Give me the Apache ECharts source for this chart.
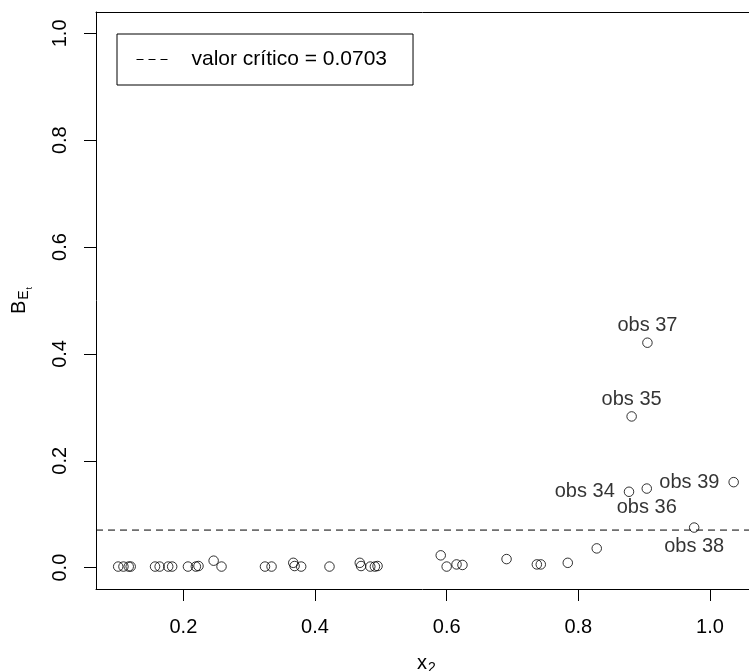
<!DOCTYPE html>
<html>
<head>
<meta charset="utf-8">
<script src="https://cdn.jsdelivr.net/npm/echarts@6/dist/echarts.min.js"></script>
<style>
html,body{margin:0;padding:0;background:#fff;}
#chart{width:749px;height:671px;}
</style>
</head>
<body>
<div id="chart"></div>
<script>
// ---- data ----
const x2 = [0.101,0.109,0.117,0.120,0.157,0.164,0.177,0.183,0.207,0.219,0.223,0.246,0.258,
            0.324,0.334,0.367,0.369,0.379,0.422,0.468,0.470,0.484,0.491,0.495,
            0.591,0.600,0.615,0.624,0.691,0.737,0.743,0.784,0.828,
            0.877,0.881,0.904,0.905,0.976,1.036];
const bEt = [0.002,0.002,0.002,0.002,0.002,0.002,0.002,0.002,0.002,0.002,0.003,0.013,0.002,
             0.002,0.002,0.009,0.003,0.002,0.002,0.009,0.003,0.002,0.002,0.003,
             0.023,0.002,0.006,0.005,0.016,0.006,0.006,0.009,0.036,
             0.142,0.283,0.148,0.421,0.075,0.160];
const labeledObs = [34,35,36,37,38,39];
const criticalValue = 0.0703;
const xTicks = [0.2,0.4,0.6,0.8,1.0];
const yTicks = [0.0,0.2,0.4,0.6,0.8,1.0];
const legendLabel = 'valor crítico = 0.0703';

// ---- layout / style ----
const FONT = '"Liberation Sans", Arial, Helvetica, sans-serif';
const xMin = 0.0673, xMax = 1.0593, yMin = -0.04, yMax = 1.04;
const labelPos = {34:'left',35:'top',36:'bottom',37:'top',38:'bottom',39:'left'};

const pts = x2.map((x, i) => {
  const obs = i + 1;
  const item = { value: [x, bEt[i]] };
  if (labeledObs.includes(obs)) {
    const pos = labelPos[obs];
    item.label = {
      show: true, position: pos, formatter: 'obs ' + obs,
      distance: pos === 'left' ? 9 : (pos === 'top' ? 2 : 4),
      color: '#000', fontSize: 20, fontFamily: FONT
    };
  }
  return item;
});

const chart = echarts.init(document.getElementById('chart'), null, {renderer: 'canvas'});
chart.setOption({
  backgroundColor: '#fff',
  animation: false,
  color: ['#000', '#000'],
  textStyle: { fontFamily: FONT, color: '#000' },
  grid: { left: 96, right: 0, top: 12, bottom: 82, containLabel: false, outerBoundsMode: 'none' },
  legend: {
    left: 117, top: 34,
    data: [legendLabel],
    itemWidth: 35, itemHeight: 14,
    padding: [15, 26, 15, 19],
    borderColor: '#000', borderWidth: 1, borderRadius: 0,
    selectedMode: false,
    textStyle: { fontSize: 21, color: '#000', fontFamily: FONT, padding: [0, 0, 0, 15] },
    itemStyle: { color: 'rgba(0,0,0,0)', borderWidth: 0, opacity: 0 },
    lineStyle: { type: [7, 5], width: 1, color: '#000', opacity: 1 }
  },
  xAxis: [{
    type: 'value', min: xMin, max: xMax, position: 'bottom',
    name: '{m|x}{s|2}', nameLocation: 'middle', nameGap: 62,
    nameTextStyle: {
      color: '#000', fontFamily: FONT, padding: [0, 0, 0, 8],
      rich: {
        m: { fontSize: 20, fontFamily: FONT, color: '#000' },
        s: { fontSize: 14, fontFamily: FONT, color: '#000', padding: [10, 0, 0, 1] }
      }
    },
    axisLine: { show: true, onZero: false, lineStyle: { color: '#000', width: 1 } },
    axisTick: { show: true, inside: false, length: 12, customValues: xTicks, lineStyle: { color: '#000' } },
    axisLabel: { customValues: xTicks, margin: 28, fontSize: 20, color: '#000', fontFamily: FONT,
                 showMinLabel: true, showMaxLabel: true, formatter: v => v.toFixed(1) },
    splitLine: { show: false }
  }, {
    type: 'value', min: xMin, max: xMax, position: 'top',
    axisLine: { show: true, onZero: false, lineStyle: { color: '#000', width: 1 } },
    axisTick: { show: false }, axisLabel: { show: false }, splitLine: { show: false }
  }],
  yAxis: {
    type: 'value', min: yMin, max: yMax,
    name: '{m|B}{s|E}{t|t}', nameLocation: 'middle', nameGap: 62, nameRotate: 90,
    nameTextStyle: {
      color: '#000', fontFamily: FONT,
      rich: {
        m: { fontSize: 20, fontFamily: FONT, color: '#000' },
        s: { fontSize: 14, fontFamily: FONT, color: '#000', padding: [10, 0, 0, 1] },
        t: { fontSize: 9, fontFamily: FONT, color: '#000', padding: [20, 0, 0, 1] }
      }
    },
    axisLine: { show: true, onZero: false, lineStyle: { color: '#000', width: 1 } },
    axisTick: { show: true, inside: false, length: 12, customValues: yTicks, lineStyle: { color: '#000' } },
    axisLabel: { customValues: yTicks, rotate: 90, margin: 26, fontSize: 20, color: '#000', fontFamily: FONT,
                 formatter: v => v.toFixed(1) },
    splitLine: { show: false }
  },
  series: [{
    name: 'obs', type: 'scatter', xAxisIndex: 0,
    symbol: 'circle', symbolSize: 9.5,
    itemStyle: { color: 'rgba(0,0,0,0)', borderColor: '#000', borderWidth: 1 },
    emphasis: { disabled: true },
    data: pts, z: 3
  }, {
    name: legendLabel, type: 'line', xAxisIndex: 0,
    symbol: 'none', showSymbol: false, silent: true,
    itemStyle: { color: '#000' },
    lineStyle: { color: '#000', width: 1, type: [7, 5] },
    emphasis: { disabled: true },
    data: [[xMin, criticalValue], [xMax, criticalValue]], z: 2
  }]
});
</script>
</body>
</html>
